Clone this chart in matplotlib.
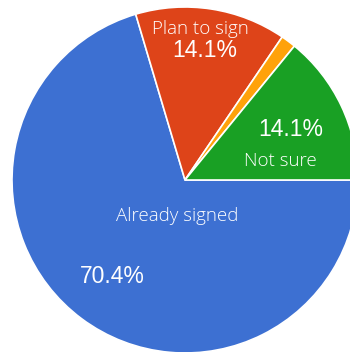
import matplotlib
matplotlib.use("Agg")
import matplotlib.pyplot as plt

# survey answers
categories = ["Already signed", "Plan to sign", "Other", "Not sure"]
shares = [70.4, 14.1, 1.4, 14.1]
colors = ["#3d70d2", "#de4419", "#ffa20a", "#19a024"]

fig = plt.figure(figsize=(3.5, 3.52), dpi=100)
ax = fig.add_axes([0, 0, 1, 1])

wedges, _ = ax.pie(shares, colors=colors, startangle=0, counterclock=False,
                   radius=1.0, center=(0, 0),
                   wedgeprops=dict(edgecolor="white", linewidth=1.2))

# keep center at pixel (185,180) with a 173 px radius
ax.set_xlim(-185 / 173, (350 - 185) / 173)
ax.set_ylim(-(352 - 180) / 173, 180 / 173)
ax.set_aspect("auto")
ax.axis("off")

lab_font = dict(family=["Open Sans", "DejaVu Sans"], color="white", fontsize=13.5,
                fontweight="light")
pct_font = dict(family=["Liberation Sans", "DejaVu Sans"], color="white", fontsize=16.5)

# label placement (data units relative to pie center)
label_pos = {0: ((-0.046, -0.21), (-0.42, -0.56)),
             1: ((0.09, 0.87), (0.115, 0.75)),
             3: ((0.55, 0.11), (0.61, 0.29))}

for i, (lpos, ppos) in label_pos.items():
    ax.text(lpos[0], lpos[1], categories[i], ha="center", va="center", **lab_font)
    ax.text(ppos[0], ppos[1], "%.1f%%" % shares[i], ha="center", va="center", **pct_font)

fig.savefig("out.png", dpi=100)
